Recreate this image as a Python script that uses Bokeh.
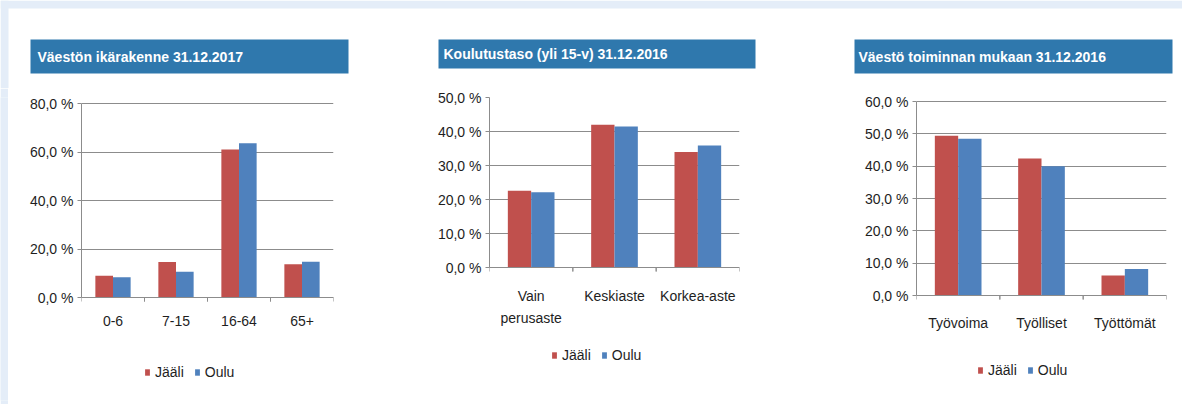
from bokeh.plotting import figure
from bokeh.models import FactorRange, Range1d, FixedTicker, Legend, LegendItem, ColumnDataSource
from bokeh.transform import dodge
from bokeh.layouts import column, row
from bokeh.embed import file_html
from bokeh.resources import INLINE
from bokeh.core.properties import value

# ---------------- data ----------------
series_names = ["Jääli", "Oulu"]
chart_titles = ["Väestön ikärakenne 31.12.2017",
                "Koulutustaso (yli 15-v) 31.12.2016",
                "Väestö toiminnan mukaan 31.12.2016"]

age_cats = ["0-6", "7-15", "16-64", "65+"]
age_jaali = [9.0, 14.6, 61.0, 13.7]
age_oulu = [8.3, 10.6, 63.6, 14.7]
age_ticks = [0, 20, 40, 60, 80]
age_tick_labels = ["0,0 %", "20,0 %", "40,0 %", "60,0 %", "80,0 %"]

edu_cats = ["Vain\nperusaste", "Keskiaste", "Korkea-aste"]
edu_jaali = [22.6, 42.0, 34.0]
edu_oulu = [22.1, 41.5, 35.9]
edu_ticks = [0, 10, 20, 30, 40, 50]
edu_tick_labels = ["0,0 %", "10,0 %", "20,0 %", "30,0 %", "40,0 %", "50,0 %"]

act_cats = ["Työvoima", "Työlliset", "Työttömät"]
act_jaali = [49.4, 42.4, 6.2]
act_oulu = [48.5, 40.0, 8.2]
act_ticks = [0, 10, 20, 30, 40, 50, 60]
act_tick_labels = ["0,0 %", "10,0 %", "20,0 %", "30,0 %", "40,0 %", "50,0 %", "60,0 %"]

# ---------------- style / layout ----------------
FONT = "Liberation Sans"
RED = "#c0504d"
BLUE = "#4f81bd"
BARC = "#2f78ad"
BAND = "#e4edf8"
GRID = "#8c8c8c"
TXT = "#1e1e1e"
LBL_SIZE = "14px"
BAR_W = 0.28
TICK_PX = 4

TOP_H = 88            # height of title strip
CH_H = 316            # height of charts strip
B_TOP = 9             # chart border top
B_BOT = 4             # chart border bottom
FRAME_TOP = TOP_H + B_TOP
FRAME_BOT = TOP_H + CH_H - B_BOT


def y_scale(zero_px, max_px, ymax):
    return (zero_px - max_px) / ymax


def y_range_for(zero_px, max_px, ymax):
    scale = y_scale(zero_px, max_px, ymax)
    return Range1d(-(FRAME_BOT - zero_px) / scale, ymax + (max_px - FRAME_TOP) / scale)


def make_chart(cats, jv, ov, ticks, tlabels, width, bl, br, zero_px, max_px,
               leg_xy, standoff, line_h=1.2):
    src = ColumnDataSource(dict(cat=cats, j=jv, o=ov))
    p = figure(x_range=FactorRange(*cats), y_range=y_range_for(zero_px, max_px, ticks[-1]),
               width=width, height=CH_H, output_backend="svg", toolbar_location=None,
               min_border_left=bl, min_border_right=br, min_border_top=B_TOP,
               min_border_bottom=B_BOT)
    r1 = p.vbar(x=dodge("cat", -BAR_W / 2, range=p.x_range), top="j", width=BAR_W,
                source=src, fill_color=RED, line_color=None)
    r2 = p.vbar(x=dodge("cat", BAR_W / 2, range=p.x_range), top="o", width=BAR_W,
                source=src, fill_color=BLUE, line_color=None)
    # small tick marks at the category boundaries below the x axis
    tick_len = TICK_PX / y_scale(zero_px, max_px, ticks[-1])
    p.segment(x0=dodge("cat", -0.5, range=p.x_range), x1=dodge("cat", -0.5, range=p.x_range),
              y0=0, y1=-tick_len, source=src, line_color=GRID, line_width=1)
    p.segment(x0=dodge("cat", 0.5, range=p.x_range), x1=dodge("cat", 0.5, range=p.x_range),
              y0=0, y1=-tick_len, source=src, line_color=GRID, line_width=1)
    p.outline_line_color = None
    p.background_fill_color = "white"
    p.border_fill_color = "white"
    p.xgrid.grid_line_color = None
    p.ygrid.grid_line_color = GRID
    p.ygrid.grid_line_width = 1
    p.yaxis.ticker = FixedTicker(ticks=ticks)
    p.yaxis.major_label_overrides = {t: l for t, l in zip(ticks, tlabels)}
    p.yaxis.bounds = (ticks[0], ticks[-1])
    p.yaxis.minor_tick_line_color = None
    p.yaxis.major_tick_in = 0
    p.yaxis.major_tick_out = 4
    p.yaxis.major_label_standoff = 4
    for ax in (p.xaxis[0], p.yaxis[0]):
        ax.axis_line_color = GRID
        ax.major_tick_line_color = GRID
        ax.major_label_text_font = FONT
        ax.major_label_text_font_size = LBL_SIZE
        ax.major_label_text_color = TXT
    p.xaxis.fixed_location = 0
    p.xaxis.major_tick_line_color = None
    p.xaxis.major_tick_in = 0
    p.xaxis.major_tick_out = 0
    p.xaxis.major_label_standoff = standoff
    p.xaxis.major_label_text_line_height = line_h
    leg = Legend(items=[LegendItem(label=series_names[0], renderers=[r1]),
                        LegendItem(label=series_names[1], renderers=[r2])],
                 location=leg_xy, orientation="horizontal",
                 padding=0, margin=0, spacing=10, label_standoff=5,
                 glyph_width=6, glyph_height=8, label_height=16,
                 label_text_font=FONT, label_text_font_size=LBL_SIZE,
                 label_text_color=TXT,
                 background_fill_alpha=0, border_line_color=None)
    p.add_layout(leg, "center")
    return p


c1 = make_chart(age_cats, age_jaali, age_oulu, age_ticks, age_tick_labels,
                387, 73, 62, 297, 103, (63, FRAME_BOT - 380), 18)
c2 = make_chart(edu_cats, edu_jaali, edu_oulu, edu_ticks, edu_tick_labels,
                395, 94, 51, 267, 97, (62, FRAME_BOT - 363), 20, 1.4)
c3 = make_chart(act_cats, act_jaali, act_oulu, act_ticks, act_tick_labels,
                392, 126, 16, 295, 101, (61, FRAME_BOT - 378), 19)

# ---------------- title strip (with page band) ----------------
ban_left = [30, 438, 854]
ban_right = [348, 755, 1172]
ban_top = [39, 39, 39]
ban_bottom = [73, 68, 73]
ban_text_x = [37, 443, 858]

t = figure(width=1182, height=TOP_H, x_range=Range1d(0, 1182), y_range=Range1d(TOP_H, 0),
           output_backend="svg", toolbar_location=None, min_border=0)
t.axis.visible = False
t.grid.visible = False
t.outline_line_color = None
t.border_fill_color = "white"
t.quad(left=[0, 0], right=[1182, 8], top=[0, 0], bottom=[8, TOP_H],
       fill_color=BAND, line_color=None)
t.quad(left=ban_left, right=ban_right, top=ban_top, bottom=ban_bottom,
       fill_color=BARC, line_color=None)
t.text(x=ban_text_x, y=[(a + b) / 2 for a, b in zip(ban_top, ban_bottom)], text=chart_titles,
       text_baseline="middle", text_align="left", text_font=value(FONT),
       text_font_style="bold", text_font_size="14px", text_color="white")

band = figure(width=8, height=CH_H, output_backend="svg", toolbar_location=None,
              min_border=0)
band.axis.visible = False
band.grid.visible = False
band.outline_line_color = None
band.background_fill_color = BAND
band.border_fill_color = BAND

layout = column(t, row(band, c1, c2, c3))
open("out.html", "w").write(file_html(layout, INLINE))
